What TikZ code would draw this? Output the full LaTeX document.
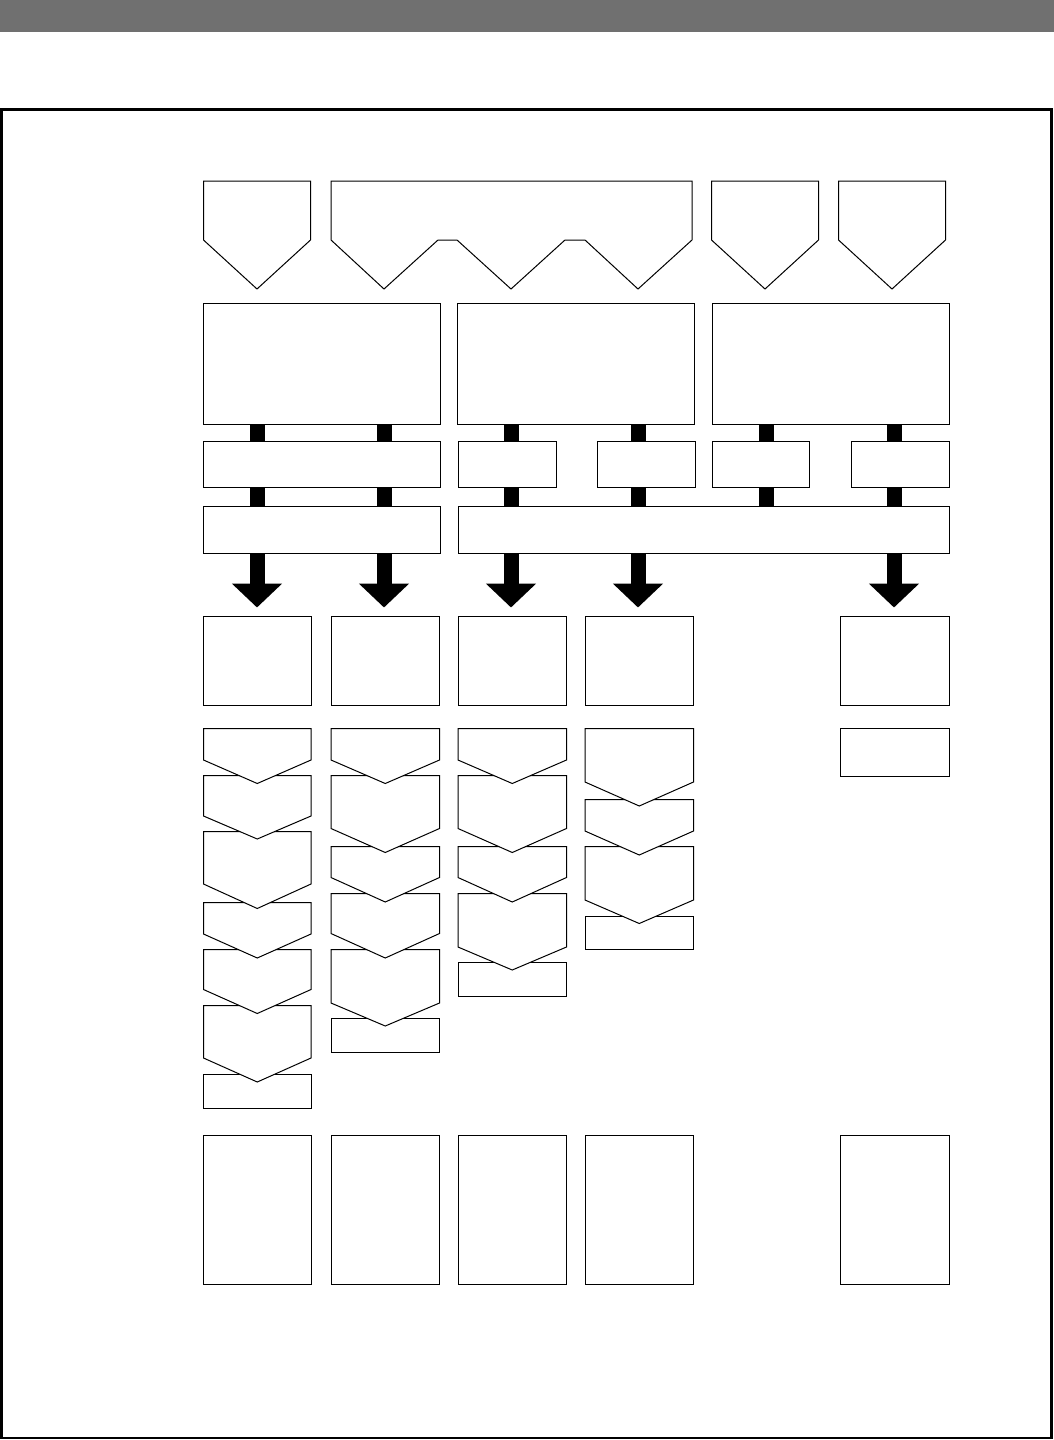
\documentclass[tikz,border=0pt]{standalone}
\usetikzlibrary{arrows.meta}
\definecolor{bandgray}{RGB}{112,112,112}
\newcommand\chevshape[5]{\path[shp] (#1,#3) -- (#2,#3) -- (#2,#4) -- ({(#1+#2)/2},#5) -- (#1,#4) -- cycle;}
\newcommand\rbox[5]{\node[box,minimum width={(#4-#2)*1pt},minimum height={(#5-#3)*1pt}] (#1) at (#2,#3) {};}
\begin{document}
\begin{tikzpicture}[x=1pt,y=-1pt,
  box/.style={draw,line width=1pt,fill=white,inner sep=0pt,outer sep=0pt,anchor=north west},
  shp/.style={draw,line width=1pt,fill=white,line join=miter},
  bar/.style={line width=15pt},
  bigarrow/.style={line width=15pt,-{Triangle[width=49pt,length=24pt]},shorten >=9pt}]
\useasboundingbox (0,0) rectangle (1054,1440);
% header band and frame
\fill[bandgray] (0,0) rectangle (1054,32);
\draw[line width=2.5pt] (1.5,109.5) rectangle (1051.5,1438);
% column axes
\coordinate (xA) at (257,0);
\coordinate (xB) at (384,0);
\coordinate (xC) at (511,0);
\coordinate (xD) at (638,0);
\coordinate (xE) at (766,0);
\coordinate (xF) at (894,0);
% top pentagons
\chevshape{203.5}{310.5}{181}{240}{289}
\path[shp] (331,181) -- (692,181) -- (692,240) -- (638,289) -- (585,240) -- (565,240)
  -- (511,289) -- (457,240) -- (438,240) -- (384,289) -- (331,240) -- cycle;
\chevshape{711.5}{818.5}{181}{240}{289}
\chevshape{838.5}{945.5}{181}{240}{289}
% row 2
\rbox{r2a}{203.5}{303.5}{440}{424.5}
\rbox{r2b}{457.5}{303.5}{694.5}{424.5}
\rbox{r2c}{712.5}{303.5}{949.5}{424.5}
% row 3
\rbox{r3a}{203.5}{441.5}{440}{487.5}
\rbox{r3b}{458}{441.5}{556}{487.5}
\rbox{r3c}{597}{441.5}{695}{487.5}
\rbox{r3d}{712}{441.5}{809.5}{487.5}
\rbox{r3e}{851}{441.5}{949.5}{487.5}
% row 4
\rbox{r4a}{203.5}{506.5}{440}{553.5}
\rbox{r4b}{458}{506.5}{949.5}{553.5}
% row 5
\rbox{r5a}{203.5}{616.5}{311}{705.5}
\rbox{r5b}{331}{616.5}{439.5}{705.5}
\rbox{r5c}{458}{616.5}{566.5}{705.5}
\rbox{r5d}{585}{616.5}{693.5}{705.5}
\rbox{r5e}{840.5}{616.5}{949.5}{705.5}
% bars row2 -> row3
\draw[bar] (xA |- r2a.south) -- (xA |- r3a.north);
\draw[bar] (xB |- r2a.south) -- (xB |- r3a.north);
\draw[bar] (xC |- r2b.south) -- (xC |- r3b.north);
\draw[bar] (xD |- r2b.south) -- (xD |- r3c.north);
\draw[bar] (xE |- r2c.south) -- (xE |- r3d.north);
\draw[bar] (xF |- r2c.south) -- (xF |- r3e.north);
% bars row3 -> row4
\draw[bar] (xA |- r3a.south) -- (xA |- r4a.north);
\draw[bar] (xB |- r3a.south) -- (xB |- r4a.north);
\draw[bar] (xC |- r3b.south) -- (xC |- r4b.north);
\draw[bar] (xD |- r3c.south) -- (xD |- r4b.north);
\draw[bar] (xE |- r3d.south) -- (xE |- r4b.north);
\draw[bar] (xF |- r3e.south) -- (xF |- r4b.north);
% big arrows
\draw[bigarrow] (xA |- r4a.south) -- (xA |- r5a.north);
\draw[bigarrow] (xB |- r4a.south) -- (xB |- r5b.north);
\draw[bigarrow] (xC |- r4b.south) -- (xC |- r5c.north);
\draw[bigarrow] (xD |- r4b.south) -- (xD |- r5d.north);
\draw[bigarrow] (xF |- r4b.south) -- (xF |- r5e.north);
% column 1 stack
\rbox{s1end}{203.5}{1074.5}{311}{1108.5}
\chevshape{203.5}{311}{1005.5}{1058}{1082}
\chevshape{203.5}{311}{949.5}{989.5}{1013.5}
\chevshape{203.5}{311}{902.5}{934}{958}
\chevshape{203.5}{311}{831.5}{884}{908.5}
\chevshape{203.5}{311}{775.5}{816}{839}
\chevshape{203.5}{311}{728.5}{760}{783.5}
% column 2 stack
\rbox{s2end}{331}{1018.5}{439.5}{1052.5}
\chevshape{331}{439.5}{949.5}{1003}{1026}
\chevshape{331}{439.5}{893.5}{933.5}{958}
\chevshape{331}{439.5}{846.5}{877.5}{902}
\chevshape{331}{439.5}{775.5}{828.5}{852.5}
\chevshape{331}{439.5}{728.5}{760}{783.5}
% column 3 stack
\rbox{s3end}{458}{962.5}{566.5}{996.5}
\chevshape{458}{566.5}{893.5}{947}{970}
\chevshape{458}{566.5}{846.5}{877.5}{902}
\chevshape{458}{566.5}{775.5}{828.5}{852.5}
\chevshape{458}{566.5}{728.5}{760}{783.5}
% column 4 stack
\rbox{s4end}{585}{916.5}{693.5}{949.5}
\chevshape{585}{693.5}{846.5}{900}{923.5}
\chevshape{585}{693.5}{799.5}{831}{855}
\chevshape{585}{693.5}{728.5}{782}{806}
% column 5
\rbox{s5end}{840.5}{728.5}{949.5}{776.5}
% bottom row
\rbox{b1}{203.5}{1135}{311}{1284}
\rbox{b2}{331}{1135}{439.5}{1284}
\rbox{b3}{458}{1135}{566.5}{1284}
\rbox{b4}{585}{1135}{693.5}{1284}
\rbox{b5}{840.5}{1135}{949.5}{1284}
\end{tikzpicture}
\end{document}
